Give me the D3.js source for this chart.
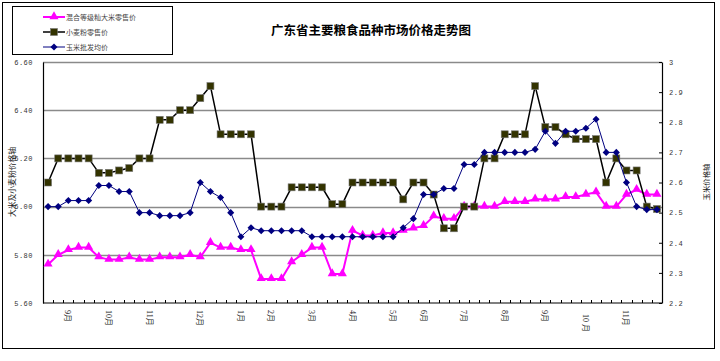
<!DOCTYPE html>
<html>
<head>
<meta charset="utf-8">
<script src="https://cdn.jsdelivr.net/npm/d3@7/dist/d3.min.js"></script>
<style>
  body { margin: 0; background: #fff; }
  svg { display: block; }
</style>
</head>
<body>
<div id="chart-holder"></div>
<script>
// 广东省主要粮食品种市场价格走势图

const chartTitle = '广东省主要粮食品种市场价格走势图';
const seriesNames = ['混合等级籼大米零售价', '小麦粉零售价', '玉米批发均价'];
const leftTitle = '大米及小麦粉价格轴';
const rightTitle = '玉米价格轴';

// weekly categories, only some carry a month label
const xLabels = ['', '', '9月', '', '', '', '10月', '', '', '', '11月', '', '', '', '', '12月', '', '', '', '1月',
    '', '', '2月', '', '', '', '3月', '', '', '', '4月', '', '', '', '5月', '', '', '6月', '', '',
    '', '7月', '', '', '', '8月', '', '', '', '9月', '', '', '', '  10 月', '', '', '', '11月', '', '', ''];

// left axis
const riceRetail = [5.76, 5.80, 5.82, 5.83, 5.83, 5.79, 5.78, 5.78, 5.79, 5.78, 5.78, 5.79, 5.79, 5.79, 5.80, 5.79, 5.85, 5.83, 5.83, 5.82, 5.82,
    5.70, 5.70, 5.70, 5.77, 5.80, 5.83, 5.83, 5.72, 5.72, 5.90, 5.88, 5.88, 5.89, 5.89, 5.90, 5.91, 5.92, 5.96, 5.95, 5.95,
    6.00, 6.00, 6.00, 6.00, 6.02, 6.02, 6.02, 6.03, 6.03, 6.03, 6.04, 6.04, 6.05, 6.06, 6.00, 6.00, 6.05, 6.07, 6.05, 6.05];

const flourRetail = [6.10, 6.20, 6.20, 6.20, 6.20, 6.14, 6.14, 6.15, 6.16, 6.20, 6.20, 6.36, 6.36, 6.40, 6.40, 6.45, 6.50, 6.30, 6.30, 6.30, 6.30,
    6.00, 6.00, 6.00, 6.08, 6.08, 6.08, 6.08, 6.01, 6.01, 6.10, 6.10, 6.10, 6.10, 6.10, 6.03, 6.10, 6.10, 6.05, 5.91, 5.91,
    6.00, 6.00, 6.20, 6.20, 6.30, 6.30, 6.30, 6.50, 6.33, 6.33, 6.30, 6.28, 6.28, 6.28, 6.10, 6.20, 6.15, 6.15, 6.00, 5.99];

// right axis
const cornWholesale = [2.52, 2.52, 2.54, 2.54, 2.54, 2.59, 2.59, 2.57, 2.57, 2.50, 2.50, 2.49, 2.49, 2.49, 2.50, 2.60, 2.57, 2.55, 2.50, 2.42, 2.45,
    2.44, 2.44, 2.44, 2.44, 2.44, 2.42, 2.42, 2.42, 2.42, 2.42, 2.42, 2.42, 2.42, 2.42, 2.45, 2.48, 2.56, 2.56, 2.58, 2.58,
    2.66, 2.66, 2.70, 2.70, 2.70, 2.70, 2.70, 2.71, 2.77, 2.73, 2.77, 2.77, 2.78, 2.81, 2.70, 2.70, 2.60, 2.52, 2.51, 2.51];

const leftTicks = [5.6, 5.8, 6.0, 6.2, 6.4, 6.6];
const rightTicks = [2.2, 2.3, 2.4, 2.5, 2.6, 2.7, 2.8, 2.9, 3.0];

const width = 720, height = 361;
const plot = { left: 43, right: 662, top: 62, bottom: 303 };

const cjk = '"Noto Sans CJK SC", sans-serif';
const mono = '"Liberation Mono", "DejaVu Sans Mono", monospace';

var svg = d3.select('#chart-holder')
    .append('svg')
    .attr('width', width)
    .attr('height', height);

// outer frame
svg.append('rect')
    .attr('x', 2.5).attr('y', 2.5)
    .attr('width', 712).attr('height', 346)
    .attr('fill', '#fff')
    .attr('stroke', '#000');

var x = d3.scaleBand()
    .domain(d3.range(xLabels.length))
    .range([plot.left, plot.right]);

var yL = d3.scaleLinear().domain([5.6, 6.6]).range([plot.bottom, plot.top]);
var yR = d3.scaleLinear().domain([2.2, 3.0]).range([plot.bottom, plot.top]);

var cx = i => x(i) + x.bandwidth() / 2;

// gridlines
svg.append('g')
    .selectAll('line')
    .data(leftTicks.slice(1))
    .join('line')
    .attr('x1', plot.left).attr('x2', plot.right)
    .attr('y1', d => Math.round(yL(d)) + 0.5)
    .attr('y2', d => Math.round(yL(d)) + 0.5)
    .attr('stroke', '#8a8a8a')
    .attr('stroke-width', 1.5);

// left axis
let leftAxis = svg.append('g')
    .attr('transform', `translate(${plot.left},0)`)
    .call(d3.axisLeft(yL).tickValues(leftTicks).tickFormat(d3.format('.2f')).tickSize(0).tickPadding(10));
leftAxis.select('.domain').attr('stroke', '#000').attr('stroke-width', 1.2);
leftAxis.selectAll('text')
    .attr('font-family', mono)
    .attr('font-size', '7px')
    .attr('letter-spacing', '0.5px')
    .attr('fill', '#333');

// right axis, ticks pointing inside
let rightAxis = svg.append('g')
    .attr('transform', `translate(${plot.right},0)`)
    .call(d3.axisRight(yR).tickValues(rightTicks).tickFormat(d => d === 3 ? '3' : d3.format('.1f')(d)).tickSizeInner(-3).tickSizeOuter(0).tickPadding(7));
rightAxis.select('.domain').attr('stroke', '#000').attr('stroke-width', 1.2);
rightAxis.selectAll('line').attr('stroke', '#000');
rightAxis.selectAll('text')
    .attr('font-family', mono)
    .attr('font-size', '7px')
    .attr('letter-spacing', '0.5px')
    .attr('fill', '#333');

// x axis: boundary ticks + rotated month labels
let xAxisG = svg.append('g');
xAxisG.append('line')
    .attr('x1', plot.left).attr('x2', plot.right)
    .attr('y1', plot.bottom).attr('y2', plot.bottom)
    .attr('stroke', '#000').attr('stroke-width', 1.2);

xAxisG.selectAll('.x-tick')
    .data(d3.range(xLabels.length + 1))
    .join('line')
    .classed('x-tick', true)
    .attr('x1', d => Math.round(plot.left + d * x.step()) + 0.5)
    .attr('x2', d => Math.round(plot.left + d * x.step()) + 0.5)
    .attr('y1', plot.bottom - 3).attr('y2', plot.bottom)
    .attr('stroke', '#000');

xAxisG.selectAll('.x-label')
    .data(xLabels.map((d, i) => ({ label: d, i: i })).filter(d => d.label !== ''))
    .join('text')
    .classed('x-label', true)
    .attr('transform', d => `translate(${cx(d.i) - 3},310) rotate(90)`)
    .attr('font-family', '"Liberation Serif", "Noto Sans CJK SC", serif')
    .attr('font-size', '8px')
    .attr('fill', '#222')
    .style('white-space', 'pre')
    .text(d => d.label);

// series lines
var lineL = d3.line().x((d, i) => cx(i)).y(d => yL(d));
var lineR = d3.line().x((d, i) => cx(i)).y(d => yR(d));

svg.append('path')
    .datum(riceRetail)
    .attr('d', lineL)
    .attr('fill', 'none')
    .attr('stroke', '#ff00ff')
    .attr('stroke-width', 2);

svg.append('g')
    .selectAll('path')
    .data(riceRetail)
    .join('path')
    .attr('d', d3.symbol().type(d3.symbolTriangle).size(36))
    .attr('transform', (d, i) => `translate(${cx(i)},${yL(d) - 0.5})`)
    .attr('fill', '#ff00ff');

svg.append('path')
    .datum(flourRetail)
    .attr('d', lineL)
    .attr('fill', 'none')
    .attr('stroke', '#000')
    .attr('stroke-width', 1.5);

svg.append('g')
    .selectAll('rect')
    .data(flourRetail)
    .join('rect')
    .attr('x', (d, i) => cx(i) - 3.5)
    .attr('y', d => yL(d) - 3.5)
    .attr('width', 7).attr('height', 7)
    .attr('fill', '#333300')
    .attr('stroke', '#777')
    .attr('stroke-width', 0.6);

svg.append('path')
    .datum(cornWholesale)
    .attr('d', lineR)
    .attr('fill', 'none')
    .attr('stroke', '#000080')
    .attr('stroke-width', 1);

svg.append('g')
    .selectAll('path')
    .data(cornWholesale)
    .join('path')
    .attr('d', d3.symbol().type(d3.symbolDiamond2).size(32))
    .attr('transform', (d, i) => `translate(${cx(i)},${yR(d)})`)
    .attr('fill', '#000080');

// title
svg.append('text')
    .attr('x', 371).attr('y', 35)
    .attr('text-anchor', 'middle')
    .attr('font-family', cjk)
    .attr('font-weight', 'bold')
    .attr('font-size', '12.5px')
    .attr('fill', '#000')
    .text(chartTitle);

// axis titles
svg.append('text')
    .attr('transform', 'translate(15,182) rotate(-90)')
    .attr('text-anchor', 'middle')
    .attr('font-family', cjk)
    .attr('font-size', '7.8px')
    .attr('fill', '#222')
    .text(leftTitle);

svg.append('text')
    .attr('transform', 'translate(709,182) rotate(-90)')
    .attr('text-anchor', 'middle')
    .attr('font-family', cjk)
    .attr('font-size', '7.4px')
    .attr('fill', '#222')
    .text(rightTitle);

// legend
let legendG = svg.append('g');

legendG.append('rect')
    .attr('x', 12.5).attr('y', 6.5)
    .attr('width', 160).attr('height', 48)
    .attr('fill', '#fff')
    .attr('stroke', '#000');

const legendRows = [17, 32, 47];
const legendColors = ['#ff00ff', '#000', '#000080'];

legendG.selectAll('.leg-line')
    .data(seriesNames)
    .join('line')
    .classed('leg-line', true)
    .attr('x1', 43).attr('x2', 65)
    .attr('y1', (d, i) => legendRows[i]).attr('y2', (d, i) => legendRows[i])
    .attr('stroke', (d, i) => legendColors[i])
    .attr('stroke-width', (d, i) => [2, 1.5, 1][i]);

legendG.append('path')
    .attr('d', d3.symbol().type(d3.symbolTriangle).size(36))
    .attr('transform', `translate(54,${legendRows[0] - 0.5})`)
    .attr('fill', '#ff00ff');

legendG.append('rect')
    .attr('x', 50.5).attr('y', legendRows[1] - 3.5)
    .attr('width', 7).attr('height', 7)
    .attr('fill', '#333300')
    .attr('stroke', '#777')
    .attr('stroke-width', 0.6);

legendG.append('path')
    .attr('d', d3.symbol().type(d3.symbolDiamond2).size(32))
    .attr('transform', `translate(54,${legendRows[2]})`)
    .attr('fill', '#000080');

legendG.selectAll('.leg-text')
    .data(seriesNames)
    .join('text')
    .classed('leg-text', true)
    .attr('x', 66)
    .attr('y', (d, i) => legendRows[i] + 2.5)
    .attr('font-family', cjk)
    .attr('font-size', '7px')
    .attr('fill', '#444')
    .text(d => d);
</script>
</body>
</html>
